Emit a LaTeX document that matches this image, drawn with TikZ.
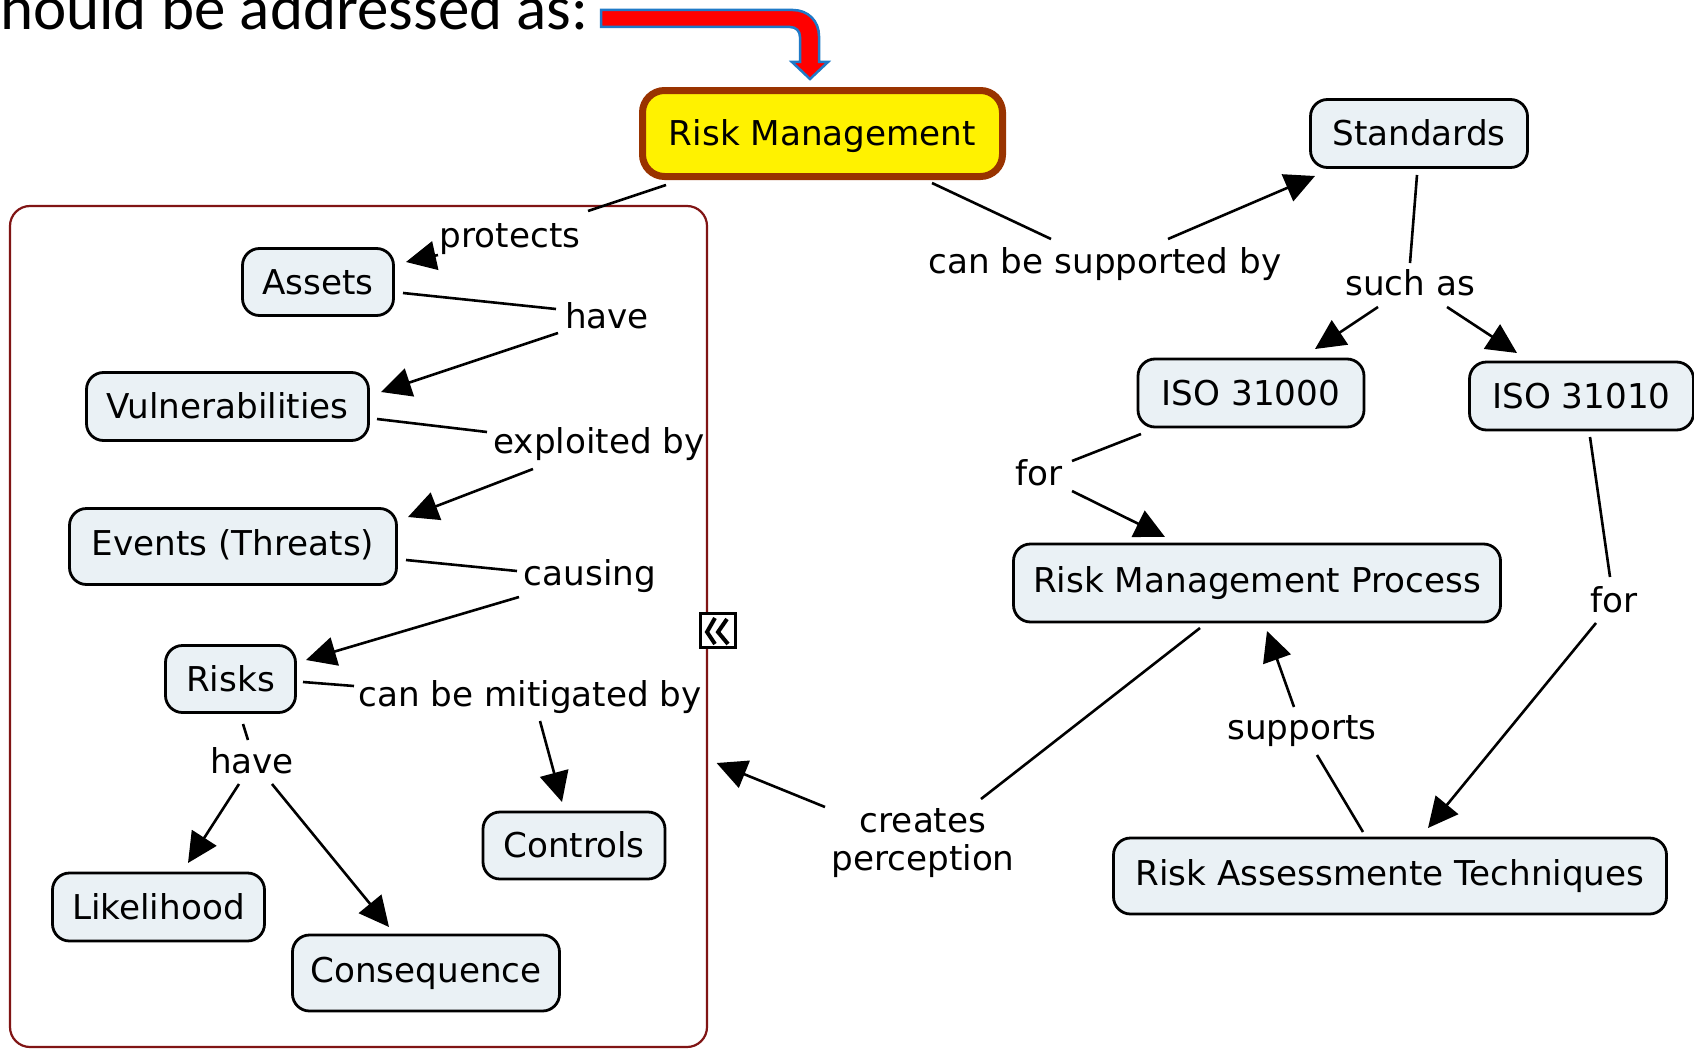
\documentclass[tikz,border=0pt]{standalone}
\usepackage{fontspec}
\setmainfont{DejaVu Sans}
\newfontfamily\titlefont{Carlito}
\usetikzlibrary{arrows.meta,calc}

\definecolor{conceptfill}{RGB}{234,241,245}
\definecolor{framered}{RGB}{128,20,20}
\definecolor{rmborder}{RGB}{153,51,0}
\definecolor{arrowred}{RGB}{255,0,0}
\definecolor{arrowblue}{RGB}{31,122,200}

\begin{document}
\begin{tikzpicture}[x=1pt,y=-1pt,
  concept/.style={draw=black, line width=2.8pt, fill=conceptfill, rounded corners=17pt,
    inner sep=0pt, font=\fontsize{34.2}{38}\selectfont, text height=24.9pt, text depth=0pt},
  raised/.style={text depth=6pt},
  linkword/.style={inner sep=0pt, font=\fontsize{34.2}{38}\selectfont, anchor=base},
  conn/.style={line width=2.6pt},
  arr/.style={conn, -{Triangle[length=30pt,width=29pt]}},
]
% canvas
\fill[white] (0,0) rectangle (1694,1049);
\useasboundingbox (0,0) rectangle (1694,1049);
\clip (0,0) rectangle (1694,1049);

% heading and pointer
\node[anchor=base west, inner sep=0pt, font=\titlefont\fontsize{63}{70}\selectfont] (title) at (0,30) {hould be addressed as:};
\filldraw[fill=arrowred, draw=arrowblue, line width=2.5pt, line join=miter]
  (601,10) -- (793,10) .. controls (808,10) and (819,21) .. (819,36) -- (819,62)
  -- (828,62) -- (810,79) -- (792,62) -- (800,62) -- (800,37)
  .. controls (800,31) and (796,27) .. (790,27) -- (601,27) -- cycle;

% nested group frame
\node[draw=framered, line width=2.2pt, rounded corners=20pt, minimum width=697pt,
  minimum height=841pt, inner sep=0pt] (frame) at (358.5,626.5) {};
\node[draw=black, fill=white, line width=2.2pt, minimum width=35pt, minimum height=34pt,
  inner sep=0pt] (collapse) at (718,630.5) {};
\draw[line width=4pt] ($(collapse)+(-3,-12.5)$) -- ($(collapse)+(-11,1.5)$) -- ($(collapse)+(-3,13.5)$);
\draw[line width=4pt] ($(collapse)+(9,-11.5)$) -- ($(collapse)+(0,1.5)$) -- ($(collapse)+(10,13.5)$);

% concepts
\node[concept, fill=yellow, draw=rmborder, line width=7pt, rounded corners=22pt,
  minimum width=360pt, minimum height=86pt] (rm) at (822.5,133.5) {Risk Management};
\node[concept, minimum width=217pt, minimum height=68pt] (std) at (1419,133.5) {Standards};
\node[concept, minimum width=151pt, minimum height=67pt] (assets) at (318,282) {Assets};
\node[concept, minimum width=282pt, minimum height=68pt] (vuln) at (227.5,406.5) {Vulnerabilities};
\node[concept, raised, minimum width=327pt, minimum height=76pt] (events) at (233,546.5) {Events (Threats)};
\node[concept, minimum width=130pt, minimum height=67pt] (risks) at (230.5,679) {Risks};
\node[concept, minimum width=212pt, minimum height=68pt] (likeli) at (158.5,907) {Likelihood};
\node[concept, raised, minimum width=267pt, minimum height=76pt] (conseq) at (426,973) {Consequence};
\node[concept, minimum width=182pt, minimum height=67pt] (controls) at (574,845.5) {Controls};
\node[concept, minimum width=226pt, minimum height=68pt] (iso1) at (1251,393) {ISO 31000};
\node[concept, minimum width=224pt, minimum height=68pt] (iso2) at (1581.5,396) {ISO 31010};
\node[concept, raised, minimum width=487pt, minimum height=78pt] (rmp) at (1257,583) {Risk Management Process};
\node[concept, raised, minimum width=553pt, minimum height=76pt] (rat) at (1390,876) {Risk Assessmente Techniques};

% linking phrases
\node[linkword] (lprot) at (510,247) {protects};
\node[linkword] (lhave1) at (607,328) {have};
\node[linkword] (lexpl) at (599,453) {exploited by};
\node[linkword] (lcaus) at (590,585) {causing};
\node[linkword] (lmit) at (530,706) {can be mitigated by};
\node[linkword] (lhave2) at (252,773) {have};
\node[linkword] (lsup) at (1105,273) {can be supported by};
\node[linkword] (lsuch) at (1410,295) {such as};
\node[linkword] (lfor1) at (1039,485) {for};
\node[linkword] (lfor2) at (1614,612) {for};
\node[linkword] (lsupp) at (1302,739) {supports};
\node[linkword, anchor=center, align=center] (lcreat) at (923,843) {creates\\perception};

% connectors
\draw[conn] ($(rm)+(-156.5,51.5)$) -- ($(lprot.base)+(78,-36)$);
\draw[arr]  ($(lprot.base)+(-72,8)$) -- ($(assets)+(88,-20)$);
\draw[conn] ($(assets)+(85,11)$) -- ($(lhave1.base)+(-51,-19)$);
\draw[arr]  ($(lhave1.base)+(-49,5)$) -- ($(vuln)+(153.5,-14.5)$);
\draw[conn] ($(vuln)+(149.5,12.5)$) -- ($(lexpl.base)+(-112,-21)$);
\draw[arr]  ($(lexpl.base)+(-66,16)$) -- ($(events)+(175,-29.5)$);
\draw[conn] ($(events)+(173,13.5)$) -- ($(lcaus.base)+(-73,-14)$);
\draw[arr]  ($(lcaus.base)+(-71,12)$) -- ($(risks)+(75.5,-19)$);
\draw[conn] ($(risks)+(72.5,3)$) -- ($(lmit.base)+(-176,-20)$);
\draw[arr]  ($(lmit.base)+(10,15)$) -- ($(controls)+(-12,-43.5)$);
\draw[conn] ($(risks)+(12.5,45)$) -- ($(lhave2.base)+(-4,-33)$);
\draw[arr]  ($(lhave2.base)+(-13,11)$) -- ($(likeli)+(29.5,-44)$);
\draw[arr]  ($(lhave2.base)+(20,11)$) -- ($(conseq)+(-37,-46)$);
\draw[conn] ($(rm)+(109.5,49.5)$) -- ($(lsup.base)+(-54,-34)$);
\draw[arr]  ($(lsup.base)+(63,-34)$) -- ($(std)+(-104,42.5)$);
\draw[conn] ($(std)+(-2,41.5)$) -- ($(lsuch.base)+(0,-32)$);
\draw[arr]  ($(lsuch.base)+(-32,12)$) -- ($(iso1)+(64,-44)$);
\draw[arr]  ($(lsuch.base)+(37,12)$) -- ($(iso2)+(-64.5,-43)$);
\draw[conn] ($(iso1)+(-110,41)$) -- ($(lfor1.base)+(33,-24)$);
\draw[arr]  ($(lfor1.base)+(33,6)$) -- ($(rmp)+(-92,-46)$);
\draw[conn] ($(iso2)+(8.5,41)$) -- ($(lfor2.base)+(-4,-35)$);
\draw[arr]  ($(lfor2.base)+(-18,11)$) -- ($(rat)+(38,-48)$);
\draw[conn] ($(rat)+(-27,-44)$) -- ($(lsupp.base)+(15,16)$);
\draw[arr]  ($(lsupp.base)+(-8,-32)$) -- ($(rmp)+(10,48)$);
\draw[conn] ($(rmp)+(-57,45)$) -- ($(lcreat)+(58,-44)$);
\draw[arr]  ($(lcreat)+(-98,-36)$) -- ($(frame.east)+(8.5,136.5)$);
\end{tikzpicture}
\end{document}
